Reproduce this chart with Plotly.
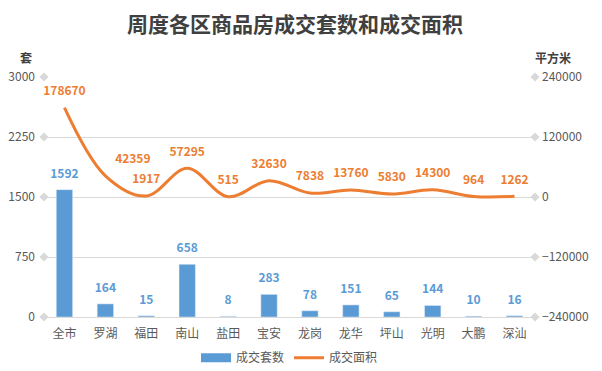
import plotly.graph_objects as go

categories = ["全市", "罗湖", "福田", "南山", "盐田", "宝安", "龙岗", "龙华", "坪山", "光明", "大鹏", "深汕"]
units = [1592, 164, 15, 658, 8, 283, 78, 151, 65, 144, 10, 16]
area = [178670, 42359, 1917, 57295, 515, 32630, 7838, 13760, 5830, 14300, 964, 1262]
left_ticks = [0, 750, 1500, 2250, 3000]
right_ticks = [-240000, -120000, 0, 120000, 240000]

FONT = "Noto Sans CJK SC, Microsoft YaHei, sans-serif"
BLUE = "#5B9BD5"
ORANGE = "#ED7D31"
GRID = "#D9D9D9"
TICK = "#595959"
CLEAR = "rgba(0,0,0,0)"

area_label_pos = ["top center"] * len(area)
area_label_pos[1] = "top right"

fig = go.Figure()
fig.add_trace(go.Bar(
    x=categories, y=units, name="成交套数", marker_color=BLUE, width=0.4,
    xaxis="x", yaxis="y", showlegend=False, hoverinfo="x+y",
))
# bar value labels
fig.add_trace(go.Scatter(
    x=categories, y=units, mode="markers+text", showlegend=False, hoverinfo="skip",
    marker=dict(size=13, color=CLEAR),
    text=[str(v) for v in units], textposition="top center",
    textfont=dict(color=BLUE, size=12, family=FONT, weight="bold"),
    cliponaxis=False, xaxis="x", yaxis="y",
))
# legend entry for bars drawn as a thick line (wide rectangle like the reference)
fig.add_trace(go.Scatter(
    x=[None], y=[None], name="成交套数", mode="lines",
    line=dict(color=BLUE, width=9), xaxis="x", yaxis="y",
))
fig.add_trace(go.Scatter(
    x=categories, y=area, name="成交面积", mode="lines+markers+text",
    line=dict(color=ORANGE, width=3, shape="spline", smoothing=1.0),
    marker=dict(size=14, color=CLEAR),
    text=[str(v) for v in area], textposition=area_label_pos,
    textfont=dict(color=ORANGE, size=12, family=FONT, weight="bold"),
    cliponaxis=False, xaxis="x", yaxis="y2",
))
# diamond tick markers on both axes
fig.add_trace(go.Scatter(
    x=[0] * len(left_ticks), y=left_ticks, mode="markers",
    marker=dict(symbol="diamond", size=7, color=GRID),
    xaxis="x2", yaxis="y", showlegend=False, hoverinfo="skip", cliponaxis=False,
))
fig.add_trace(go.Scatter(
    x=[1] * len(right_ticks), y=right_ticks, mode="markers",
    marker=dict(symbol="diamond", size=7, color=GRID),
    xaxis="x2", yaxis="y2", showlegend=False, hoverinfo="skip", cliponaxis=False,
))

fig.update_layout(
    width=602, height=371,
    margin=dict(l=44, r=67, t=77, b=54, autoexpand=False),
    paper_bgcolor="white", plot_bgcolor="white",
    font=dict(family=FONT, size=12, color=TICK),
    title=dict(text="<b>周度各区商品房成交套数和成交面积</b>", x=0.49, xanchor="center",
               y=1 - 25 / 371, yanchor="middle", font=dict(size=21, color="#404040", family=FONT)),
    xaxis=dict(showgrid=False, showline=True, linecolor=GRID, linewidth=1, ticks="",
               ticklabelstandoff=6, range=[-0.5, len(categories) - 0.5],
               tickfont=dict(size=12, color=TICK), categoryorder="array", categoryarray=categories),
    xaxis2=dict(overlaying="x", range=[0, 1], visible=False),
    yaxis=dict(range=[0, 3000], tickvals=left_ticks, showgrid=True, gridcolor=GRID, gridwidth=1,
               zeroline=False, showline=False, ticks="", ticklabelstandoff=8,
               tickfont=dict(size=12, color=TICK)),
    yaxis2=dict(range=[-240000, 240000], tickvals=right_ticks, overlaying="y", side="right",
                tickformat="d",
                showgrid=False, zeroline=False, showline=False, ticks="", ticklabelstandoff=6,
                tickfont=dict(size=12, color=TICK)),
    legend=dict(orientation="h", x=0.5, xanchor="center", y=-0.17, yanchor="middle",
                font=dict(size=12, color=TICK), itemwidth=30, tracegroupgap=0),
    bargap=0.6,
    annotations=[
        dict(text="<b>套</b>", xref="paper", yref="paper", x=-0.02, y=1.083, showarrow=False,
             xanchor="right", yanchor="middle", font=dict(size=12, color="#404040")),
        dict(text="<b>平方米</b>", xref="paper", yref="paper", x=0.995, y=1.083, showarrow=False,
             xanchor="left", xshift=0, yanchor="middle", font=dict(size=12, color="#404040")),
    ],
)

fig.write_html("out.html", config={"displayModeBar": False},
               post_script="document.body.style.margin='0px';")
